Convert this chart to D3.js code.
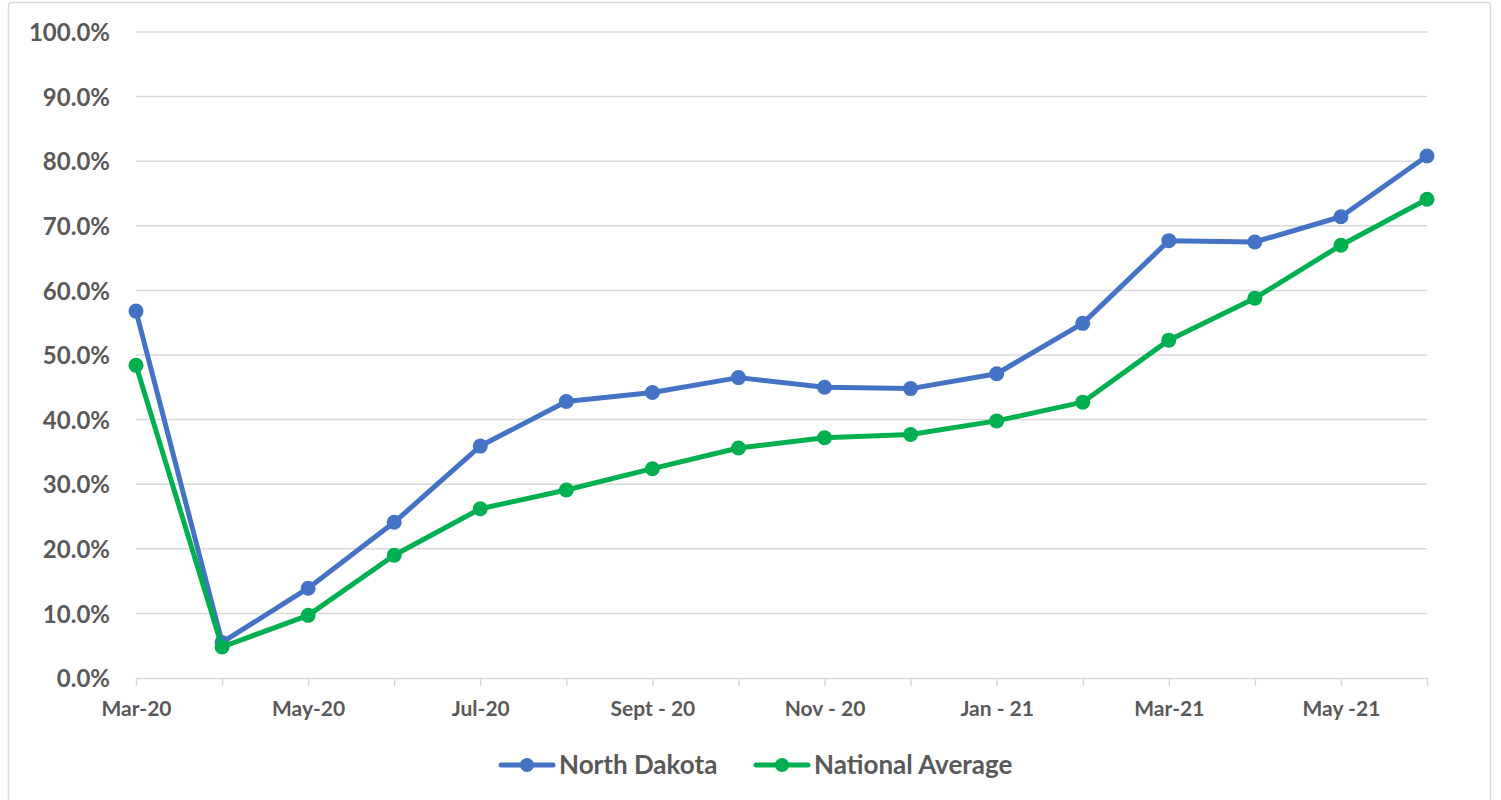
<!DOCTYPE html>
<html>
<head>
<meta charset="utf-8">
<title>North Dakota vs National Average</title>
<style>
html,body{margin:0;padding:0;background:#fff;}
body{width:1501px;height:800px;overflow:hidden;font-family:Lato,"Open Sans",sans-serif;}
.grid line{stroke:#d9d9d9;stroke-width:1.5px;}
.axis text{fill:#595959;font-weight:700;font-family:Lato,sans-serif;}
.y.axis text{font-size:24px;}
.x.axis text{font-size:21px;}
.axis path,.axis line{stroke:#d9d9d9;stroke-width:1.5px;}
.legend text{fill:#595959;font-weight:700;font-size:26px;}
</style>
</head>
<body>
<svg id="chart" width="1501" height="800"></svg>
<script src="https://cdn.jsdelivr.net/npm/d3@7"></script>
<script>
// ---- data ----
const months = ['Mar-20','Apr-20','May-20','Jun-20','Jul-20','Aug-20','Sept - 20','Oct - 20',
                'Nov - 20','Dec - 20','Jan - 21','Feb - 21','Mar-21','Apr-21','May -21','Jun-21'];
const northDakota = [56.8,5.5,13.9,24.1,35.9,42.8,44.2,46.5,45.0,44.8,47.1,54.9,67.7,67.5,71.4,80.8];
const nationalAvg = [48.4,4.8,9.7,19.0,26.2,29.1,32.4,35.6,37.2,37.7,39.8,42.7,52.3,58.8,67.0,74.1];
const yTicks = [0,10,20,30,40,50,60,70,80,90,100];
const series = [
  {name:'North Dakota', values:northDakota, color:'#4472C4'},
  {name:'National Average', values:nationalAvg, color:'#00B050'}
];

// ---- layout ----
const svg = d3.select('#chart');
const m = {left:136, right:1427, top:32, bottom:678};

// chart border
svg.append('rect').attr('x',8.5).attr('y',2.5).attr('width',1482).attr('height',810)
  .attr('rx',3).attr('fill','#fff').attr('stroke','#d9d9d9').attr('stroke-width',1.5);

const x = d3.scalePoint().domain(months).range([m.left,m.right]);
const y = d3.scaleLinear().domain([0,100]).range([m.bottom,m.top]);

// gridlines
svg.append('g').attr('class','grid')
  .selectAll('line').data(yTicks.filter(d=>d>0)).join('line')
  .attr('x1',m.left).attr('x2',m.right)
  .attr('y1',d=>y(d)).attr('y2',d=>y(d));

// y axis (labels only)
const yAxis = svg.append('g').attr('class','y axis').attr('transform',`translate(${m.left},0)`)
  .call(d3.axisLeft(y).tickValues(yTicks).tickFormat(d=>d.toFixed(1)+'%').tickSize(0).tickPadding(26));
yAxis.select('.domain').remove();
yAxis.selectAll('text').attr('dy','0.36em');

// x axis
const xAxis = svg.append('g').attr('class','x axis').attr('transform',`translate(0,${m.bottom})`)
  .call(d3.axisBottom(x).tickSizeInner(8).tickSizeOuter(0).tickPadding(15)
    .tickFormat((d,i)=>i%2===0?d:''));
xAxis.select('.domain').attr('d',`M${m.left},0.5H${m.right}`);

// lines + markers
const line = d3.line().x((d,i)=>x(months[i])).y(d=>y(d));
series.forEach(s=>{
  svg.append('path').datum(s.values)
    .attr('d',line).attr('fill','none')
    .attr('stroke',s.color).attr('stroke-width',5).attr('stroke-linejoin','round');
  svg.append('g').selectAll('circle').data(s.values).join('circle')
    .attr('cx',(d,i)=>x(months[i])).attr('cy',d=>y(d)).attr('r',7.5)
    .attr('fill',s.color);
});

// legend
const legend = svg.append('g').attr('class','legend');
const legendX = [499,754];
series.forEach((s,i)=>{
  const g = legend.append('g').attr('transform',`translate(${legendX[i]},765)`);
  g.append('line').attr('x1',2).attr('x2',54).attr('stroke',s.color)
    .attr('stroke-width',5).attr('stroke-linecap','round');
  g.append('circle').attr('cx',28).attr('r',7).attr('fill',s.color);
  g.append('text').attr('x',60).attr('dy','0.36em').text(s.name);
});
</script>
</body>
</html>
